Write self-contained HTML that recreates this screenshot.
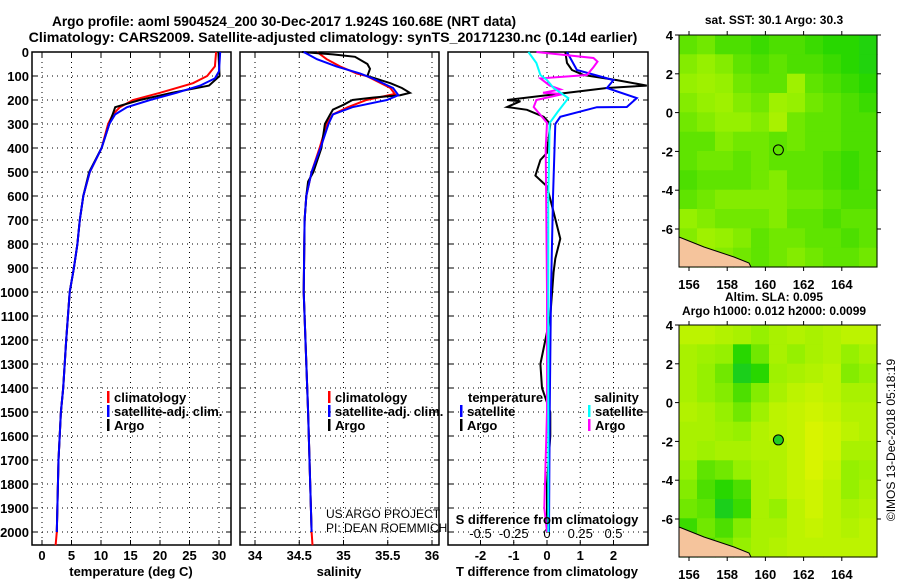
<!DOCTYPE html>
<html><head><meta charset="utf-8"><style>
html,body{margin:0;padding:0;background:#fff;}
svg{display:block;font-family:"Liberation Sans",sans-serif;font-weight:bold;}
</style></head><body>
<svg id="c" width="900" height="580" xmlns="http://www.w3.org/2000/svg">
<text x="284" y="26" font-size="13.7" text-anchor="middle">Argo profile: aoml 5904524_200 30-Dec-2017 1.924S 160.68E (NRT data)</text>
<text x="333" y="42" font-size="14.2" text-anchor="middle">Climatology: CARS2009. Satellite-adjusted climatology: synTS_20171230.nc (0.14d earlier)</text>
<g id="p1"></g>
<g id="p2"></g>
<g id="p3"></g>
<g id="m1"></g>
<g id="m2"></g>
<text transform="translate(895,440) rotate(-90)" font-size="12" font-weight="normal" text-anchor="middle">©IMOS 13-Dec-2018 05:18:19</text>
</svg>
<script>
// ---- data ----
const depthTicks=[0,100,200,300,400,500,600,700,800,900,1000,1100,1200,1300,1400,1500,1600,1700,1800,1900,2000];
const tempTicks=[0,5,10,15,20,25,30];
const salTicks=[34,34.5,35,35.5,36];
const salTickLabels=["34","34.5","35","35.5","36"];
const tdTicks=[-2,-1,0,1,2];
const sdTicks=[-0.5,-0.25,0,0.25,0.5];
const sdTickLabels=["-0.5","-0.25","0","0.25","0.5"];

const argoTD=[0,100,140,170,200,230,300,400,500,540,600,700,800,900,1000,1200,1400,1500,1700,2000];
const argoT=[29.9,30.1,28.3,22,16.6,12.4,11.4,10.1,8,7.6,7,6.4,6,5.4,4.7,4.1,3.6,3.2,2.8,2.5];
const climTD=[0,60,100,130,170,200,230,260,300,400,500,600,700,800,900,1000,1200,1400,1500,1700,2000,2055];
const climT=[29.5,29.3,28,25.6,20,15.4,13.2,12,11.2,10.1,8.1,7,6.4,6,5.4,4.7,4.1,3.6,3.2,2.8,2.5,2.3];
const satTD=[0,80,110,140,170,200,230,260,300,400,500,600,700,800,900,1000,1200,1400,1500,1700,2000];
const satT=[30.2,30,29.3,26.8,22.8,18.3,14.4,12.4,11.4,10.1,8.1,7,6.4,6,5.4,4.7,4.1,3.6,3.2,2.8,2.5];

const argoSD=[0,10,20,50,70,90,100,130,150,170,180,190,200,220,240,260,300,400,500,540,600,700,1000,1500,2000];
const argoS=[34.53,34.88,35.13,35.27,35.3,35.28,35.27,35.53,35.66,35.75,35.64,35.33,35.1,35.0,34.88,34.85,34.79,34.75,34.66,34.6,34.58,34.56,34.55,34.6,34.64];
const climSD=[0,30,60,90,100,150,175,200,230,260,300,400,500,600,700,1000,1500,2000,2055];
const climS=[34.7,34.81,34.96,35.15,35.26,35.53,35.58,35.26,35.05,34.88,34.81,34.73,34.64,34.58,34.56,34.55,34.6,34.64,34.65];
const satSD=[0,30,60,90,110,150,180,200,230,260,300,400,500,600,700,1000,1500,2000];
const satS=[34.55,34.7,34.92,35.19,35.33,35.56,35.62,35.49,35.1,34.88,34.83,34.74,34.64,34.58,34.56,34.55,34.6,34.64];

const dTD=[0,75,117,150,192,229,230,270,300,604,1000,1500,2000];
const satDT=[0.6,0.9,2.0,1.8,2.7,2.4,1.5,0.4,0.25,0.18,0.12,0.08,0.06];
const argoDTD=[0,46,75,96,117,140,150,165,200,205,229,241,270,300,420,450,515,560,667,778,861,917,1100,1300,1400,1500,1600,1800,2000];
const argoDT=[0.55,0.6,0.75,1.1,2.1,3,1.8,0.9,-1.2,-0.8,-1.2,-0.6,-0.1,0.1,0,-0.2,-0.35,0,0.2,0.4,0.25,0.2,0.1,-0.2,-0.15,0.1,0.1,0,0];
const satDSD=[0,46,96,117,150,192,250,296,600,1000,1500,2000];
const satDS=[-0.14,-0.08,-0.05,0,0.05,0.16,0.08,0.02,0.01,0.01,0.01,0.01];
const argoDSD=[0,25,40,63,96,110,140,156,170,175,200,229,262,295,400,1000,1500,1900,2000];
const argoDS=[-0.08,0.35,0.38,0.35,0.3,-0.05,0.02,0.1,-0.03,0.12,-0.08,-0.1,-0.05,0,-0.01,0,0,-0.02,0];

// map grids (11 lon cols x 12 lat rows), 0 = deep green, 1 = yellow
const sstGrid=[
[.45,.5,.4,.4,.35,.4,.4,.35,.3,.3,.25],
[.55,.6,.55,.45,.4,.45,.4,.4,.35,.3,.25],
[.6,.65,.6,.5,.45,.45,.65,.45,.4,.35,.3],
[.55,.6,.65,.55,.5,.65,.6,.5,.45,.4,.35],
[.5,.55,.6,.6,.55,.7,.5,.45,.45,.4,.4],
[.45,.45,.55,.5,.5,.45,.5,.45,.45,.4,.4],
[.45,.5,.5,.45,.5,.45,.45,.45,.4,.35,.4],
[.4,.45,.45,.45,.5,.55,.45,.45,.4,.35,.4],
[.45,.5,.55,.55,.55,.55,.5,.5,.45,.4,.4],
[.6,.55,.5,.5,.5,.55,.45,.45,.4,.45,.45],
[.55,.65,.6,.55,.45,.5,.5,.45,.45,.4,.45],
[.5,.6,.55,.5,.45,.5,.55,.5,.45,.45,.5]];
const slaGrid=[
[.8,.8,.75,.7,.6,.7,.75,.7,.75,.8,.8],
[.7,.65,.6,.3,.5,.7,.6,.7,.75,.6,.7],
[.7,.6,.5,.2,.3,.65,.7,.75,.8,.55,.6],
[.7,.6,.55,.4,.55,.7,.8,.85,.8,.7,.7],
[.75,.7,.6,.5,.65,.8,.85,.9,.85,.75,.75],
[.7,.7,.65,.6,.75,.8,.85,.95,.9,.8,.75],
[.7,.65,.7,.7,.75,.75,.85,.95,.9,.7,.7],
[.6,.45,.5,.6,.7,.75,.85,.95,.85,.6,.65],
[.55,.4,.3,.4,.7,.75,.85,.9,.8,.6,.7],
[.5,.45,.2,.35,.7,.6,.8,.9,.8,.7,.75],
[.35,.5,.4,.55,.7,.7,.8,.85,.8,.75,.8],
[.2,.4,.5,.6,.7,.75,.8,.8,.8,.8,.8]];
const lonTicks=[156,158,160,162,164];
const latTicks=[4,2,0,-2,-4,-6];
const floatLon=[160.68], floatLat=[-1.924];

// ---- helpers ----
const NS="http://www.w3.org/2000/svg";
function mk(tag,attrs,parent,txt){const e=document.createElementNS(NS,tag);for(const k in attrs)e.setAttribute(k,attrs[k]);if(txt!==undefined)e.textContent=txt;parent.appendChild(e);return e;}
const TOP=52,BOT=545;
const yD=d=>TOP+0.24*d;
function panel(g,x0,x1,xs,vTicks){
  mk('rect',{x:x0,y:TOP,width:x1-x0,height:BOT-TOP,fill:'#fff'},g);
  vTicks.forEach(v=>{const x=xs(v);const l=mk('line',{x1:x,x2:x,y1:TOP,y2:BOT,stroke:'#000','stroke-width':1,'stroke-dasharray':'1,4'},g);
    mk('line',{x1:x,x2:x,y1:BOT,y2:BOT-5,stroke:'#000'},g);mk('line',{x1:x,x2:x,y1:TOP,y2:TOP+5,stroke:'#000'},g);});
  depthTicks.forEach(d=>{const y=yD(d);const l=mk('line',{x1:x0,x2:x1,y1:y,y2:y,stroke:'#000','stroke-width':1,'stroke-dasharray':'1,4'},g);
    mk('line',{x1:x0,x2:x0+5,y1:y,y2:y,stroke:'#000'},g);mk('line',{x1:x1-5,x2:x1,y1:y,y2:y,stroke:'#000'},g);});
  const f=mk('rect',{x:x0,y:TOP,width:x1-x0,height:BOT-TOP,fill:'none',stroke:'#000','stroke-width':1.5},g);
  
}
function line(g,ds,vs,xs,color,name,w){
  const pts=ds.map((d,i)=>xs(vs[i]).toFixed(1)+','+yD(d).toFixed(1)).join(' ');
  const p=mk('polyline',{points:pts,fill:'none',stroke:color,'stroke-width':w||2},g);
  
}
function legend(g,x,y,color,label,name){
  mk('rect',{x:x,y:y-11,width:2.5,height:12,fill:color},g);
  const t=mk('text',{x:x+7,y:y,'font-size':13},g,label);
  
}

// ---- panel 1 ----
const p1=document.getElementById('p1');
const xT=t=>42+5.9*t;
panel(p1,32,231,xT,tempTicks);
depthTicks.forEach(d=>{const t=mk('text',{x:29,y:yD(d)+5,'font-size':13,'text-anchor':'end'},p1,String(d));});
tempTicks.forEach(v=>{const t=mk('text',{x:xT(v),y:560,'font-size':13,'text-anchor':'middle'},p1,String(v));});
line(p1,climTD,climT,xT,'#f00','climatology-temp-line');
line(p1,argoTD,argoT,xT,'#000','argo-temp-line');
line(p1,satTD,satT,xT,'#00f','satellite-temp-line');
legend(p1,107,402,'#f00','climatology','legend-climatology');
legend(p1,107,416,'#00f','satellite-adj. clim.','legend-satellite');
legend(p1,107,430,'#000','Argo','legend-argo');
let t=mk('text',{x:131,y:576,'font-size':13,'text-anchor':'middle'},p1,'temperature (deg C)');

// ---- panel 2 ----
const p2=document.getElementById('p2');
const xS=s=>255+88.5*(s-34);
panel(p2,240,439,xS,salTicks);
salTicks.forEach((v,i)=>{const t=mk('text',{x:xS(v),y:560,'font-size':13,'text-anchor':'middle'},p2,salTickLabels[i]);});
line(p2,climSD,climS,xS,'#f00','climatology-sal-line');
line(p2,argoSD,argoS,xS,'#000','argo-sal-line');
line(p2,satSD,satS,xS,'#00f','satellite-sal-line');
legend(p2,328,402,'#f00','climatology','legend-climatology');
legend(p2,328,416,'#00f','satellite-adj. clim.','legend-satellite');
legend(p2,328,430,'#000','Argo','legend-argo');
t=mk('text',{x:326,y:518,'font-size':12,'font-weight':'normal'},p2,'US ARGO PROJECT');
t=mk('text',{x:326,y:532,'font-size':12,'font-weight':'normal'},p2,'PI: DEAN ROEMMICH');
t=mk('text',{x:339,y:576,'font-size':13,'text-anchor':'middle'},p2,'salinity');

// ---- panel 3 ----
const p3=document.getElementById('p3');
const xDT=v=>547+33.25*v;
const xDS=v=>547+133*v;
panel(p3,448,648,xDT,tdTicks);
tdTicks.forEach(v=>{const t=mk('text',{x:xDT(v),y:560,'font-size':13,'text-anchor':'middle'},p3,String(v));});
sdTicks.forEach((v,i)=>{const t=mk('text',{x:xDS(v),y:538,'font-size':13,'text-anchor':'middle','font-weight':'normal'},p3,sdTickLabels[i]);});
line(p3,argoDTD,argoDT,xDT,'#000','argo-tdiff-line');
line(p3,dTD,satDT,xDT,'#00f','satellite-tdiff-line');
line(p3,argoDSD,argoDS,xDS,'#f0f','argo-sdiff-line');
line(p3,satDSD,satDS,xDS,'#0ff','satellite-sdiff-line');
t=mk('text',{x:468,y:402,'font-size':13},p3,'temperature');
t=mk('text',{x:594,y:402,'font-size':13},p3,'salinity');
legend(p3,460,416,'#00f','satellite','legend-t-satellite');
legend(p3,460,430,'#000','Argo','legend-t-argo');
legend(p3,588,416,'#0ff','satellite','legend-s-satellite');
legend(p3,588,430,'#f0f','Argo','legend-s-argo');
t=mk('text',{x:547,y:524,'font-size':13,'text-anchor':'middle'},p3,'S difference from climatology');
t=mk('text',{x:547,y:576,'font-size':13,'text-anchor':'middle'},p3,'T difference from climatology');

// ---- maps ----
function col(v){ // 0 deep green -> 1 yellow
  const stops=[[0,[0,190,80]],[0.3,[40,215,0]],[0.6,[150,240,0]],[1,[225,245,0]]];
  for(let i=1;i<stops.length;i++){if(v<=stops[i][0]){const a=stops[i-1],b=stops[i];const f=(v-a[0])/(b[0]-a[0]);return 'rgb('+a[1].map((c,j)=>Math.round(c+(b[1][j]-c)*f)).join(',')+')';}}
  return 'rgb(225,245,0)';
}
function map(g,top,grid,titles,titleYs,filled){
  const x0=679,x1=877,bot=top+232;
  const xL=lon=>689+19.1*(lon-156);
  const yL=lat=>top+19.4*(4-lat);
  titles.forEach((s,i)=>{const t=mk('text',{x:774,y:titleYs[i],'font-size':12,'text-anchor':'middle'},g,s);});
  const cw=(x1-x0)/11,ch=(bot-top)/12;
  grid.forEach((row,r)=>row.forEach((v,c)=>{const e=mk('rect',{x:(x0+c*cw).toFixed(1),y:(top+r*ch).toFixed(1),width:(cw+0.6).toFixed(1),height:(ch+0.6).toFixed(1),fill:col(v)},g);}));
  const land=mk('path',{d:`M${x0},${bot-30} L${x0+10},${bot-26} L${x0+25},${bot-20} L${x0+40},${bot-15} L${x0+55},${bot-10} L${x0+70},${bot-4} L${x0+72},${bot} L${x0},${bot} Z`,fill:'#f5c49c',stroke:'#000','stroke-width':1},g);
  
  mk('rect',{x:x0,y:top,width:x1-x0,height:bot-top,fill:'none',stroke:'#000','stroke-width':1},g);
  lonTicks.forEach(v=>{const t=mk('text',{x:xL(v),y:bot+22,'font-size':13,'text-anchor':'middle'},g,String(v));mk('line',{x1:xL(v),x2:xL(v),y1:top,y2:top-4,stroke:'#000'},g);mk('line',{x1:xL(v),x2:xL(v),y1:bot,y2:bot+4,stroke:'#000'},g);});
  latTicks.forEach(v=>{const t=mk('text',{x:673,y:yL(v)+5,'font-size':13,'text-anchor':'end'},g,String(v));mk('line',{x1:x0-4,x2:x0,y1:yL(v),y2:yL(v),stroke:'#000'},g);mk('line',{x1:x1,x2:x1+4,y1:yL(v),y2:yL(v),stroke:'#000'},g);});
  const m=mk('circle',{cx:xL(floatLon[0]),cy:yL(floatLat[0]),r:5,fill:filled?'#22cc22':'none',stroke:'#000','stroke-width':1},g);
  
}
map(document.getElementById('m1'),35,sstGrid,['sat. SST: 30.1 Argo: 30.3'],[24],false);
map(document.getElementById('m2'),325,slaGrid,['Altim. SLA: 0.095','Argo h1000: 0.012 h2000: 0.0099'],[301,315],true);
</script>
</body></html>
